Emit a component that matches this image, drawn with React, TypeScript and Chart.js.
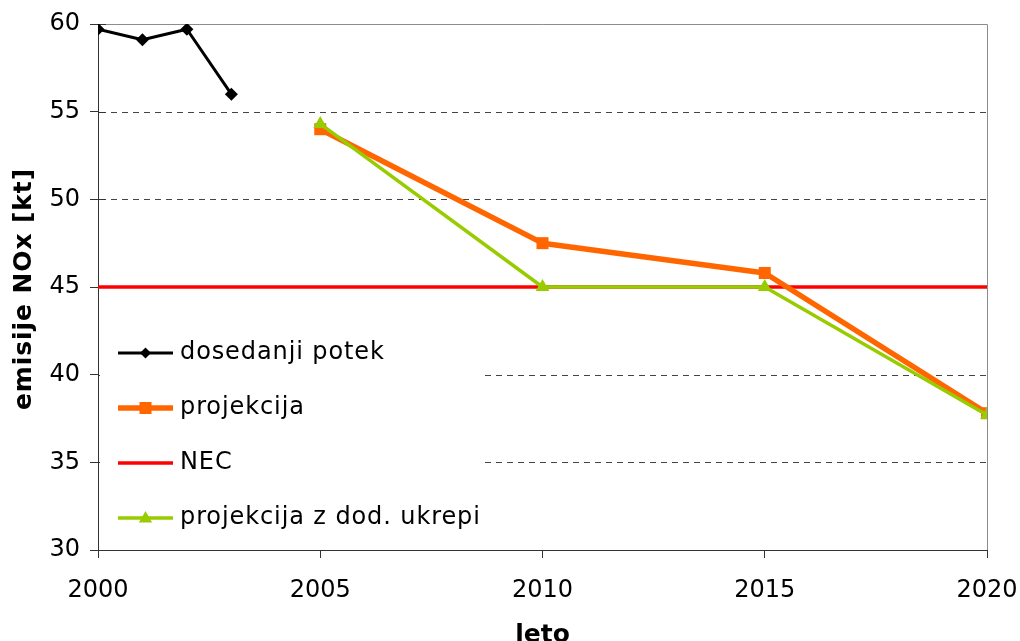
import React, { useEffect, useRef } from "react";
import { Chart, registerables } from "chart.js";

Chart.register(...registerables);

// ---- data ----
const historyYears = [2000, 2001, 2002, 2003];
const historyValues = [59.7, 59.1, 59.7, 56.0];
const projectionYears = [2005, 2010, 2015, 2020];
const projectionValues = [54.0, 47.5, 45.8, 37.8];
const extraMeasuresValues = [54.3, 45.0, 45.0, 37.7];
const necYears = [2000, 2020];
const necValues = [45, 45];
const seriesLabels = ["dosedanji potek", "projekcija", "NEC", "projekcija z dod. ukrepi"];
const yTicks = [30, 35, 40, 45, 50, 55, 60];
const xTitle = "leto";
const yTitle = "emisije NOx [kt]";

const FONT = "'DejaVu Sans', Verdana, sans-serif";
const BLACK = "#000000";
const ORANGE = "#FF6600";
const RED = "#FF0000";
const GREEN = "#99CC00";

function toPoints(xs: number[], ys: number[]) {
  return xs.map((x, i) => ({ x, y: ys[i] }));
}

function drawMarker(ctx: CanvasRenderingContext2D, style: string, x: number, y: number, r: number, color: string) {
  ctx.fillStyle = color;
  ctx.beginPath();
  if (style === "rectRot") {
    ctx.moveTo(x - r, y);
    ctx.lineTo(x, y - r);
    ctx.lineTo(x + r, y);
    ctx.lineTo(x, y + r);
  } else if (style === "rect") {
    ctx.rect(x - r, y - r, 2 * r, 2 * r);
  } else if (style === "triangle") {
    ctx.moveTo(x, y - r);
    ctx.lineTo(x + r * 0.95, y + r * 0.65);
    ctx.lineTo(x - r * 0.95, y + r * 0.65);
  }
  ctx.closePath();
  ctx.fill();
}

const legendItems = [
  { label: seriesLabels[0], color: BLACK, width: 3, marker: "rectRot", r: 5.5 },
  { label: seriesLabels[1], color: ORANGE, width: 5.5, marker: "rect", r: 6 },
  { label: seriesLabels[2], color: RED, width: 3.5, marker: "", r: 0 },
  { label: seriesLabels[3], color: GREEN, width: 3.5, marker: "triangle", r: 7 },
];

const decorPlugin = {
  id: "decor",
  beforeDatasetsDraw(chart: any) {
    const { ctx, chartArea: ca, scales } = chart;
    const y = scales.y;
    ctx.save();
    ctx.lineWidth = 1;
    ctx.strokeStyle = "#444444";
    ctx.setLineDash([6, 5]);
    for (const v of yTicks) {
      if (v === 30 || v === 60) continue;
      const py = Math.round(y.getPixelForValue(v)) + 0.5;
      ctx.beginPath();
      ctx.moveTo(ca.left + 2, py);
      ctx.lineTo(ca.right, py);
      ctx.stroke();
    }
    ctx.setLineDash([]);
    ctx.strokeStyle = "#8c8c8c";
    const top = Math.round(ca.top) + 0.5;
    const right = Math.round(ca.right) + 0.5;
    ctx.beginPath();
    ctx.moveTo(ca.left, top);
    ctx.lineTo(right, top);
    ctx.lineTo(right, ca.bottom);
    ctx.stroke();
    ctx.strokeStyle = "#333333";
    for (const v of yTicks) {
      const py = Math.round(y.getPixelForValue(v)) + 0.5;
      ctx.beginPath();
      ctx.moveTo(ca.left, py);
      ctx.lineTo(ca.left + 8, py);
      ctx.stroke();
    }
    ctx.restore();
  },
  afterDatasetsDraw(chart: any) {
    const { ctx } = chart;
    ctx.save();
    ctx.fillStyle = "#ffffff";
    ctx.fillRect(100, 322, 382, 226);
    const rows = [353, 408, 463, 518];
    legendItems.forEach((it, i) => {
      const ry = rows[i];
      ctx.strokeStyle = it.color;
      ctx.lineWidth = it.width;
      ctx.lineCap = "butt";
      ctx.beginPath();
      ctx.moveTo(118, ry);
      ctx.lineTo(173, ry);
      ctx.stroke();
      if (it.marker) drawMarker(ctx, it.marker, 145.5, ry, it.r, it.color);
      ctx.fillStyle = "#000";
      ctx.font = `24px ${FONT}`;
      (ctx as any).letterSpacing = "0.9px";
      ctx.textAlign = "left";
      ctx.textBaseline = "middle";
      ctx.fillText(it.label, 180, ry);
      (ctx as any).letterSpacing = "0px";
    });
    ctx.restore();
  },
  afterDraw(chart: any) {
    const { ctx, chartArea: ca } = chart;
    ctx.save();
    ctx.fillStyle = "#000";
    ctx.font = `bold 25px ${FONT}`;
    ctx.textAlign = "center";
    ctx.textBaseline = "alphabetic";
    ctx.fillText(xTitle, (ca.left + ca.right) / 2, 642);
    ctx.translate(24, (ca.top + ca.bottom) / 2 + 2);
    ctx.rotate(-Math.PI / 2);
    ctx.textBaseline = "middle";
    (ctx as any).letterSpacing = "0.9px";
    ctx.fillText(yTitle, 0, 0);
    ctx.restore();
  },
};

export default function App() {
  const ref = useRef<HTMLCanvasElement | null>(null);
  useEffect(() => {
    if (!ref.current) return;
    const chart = new Chart(ref.current, {
      type: "line",
      data: {
        datasets: [
          {
            label: seriesLabels[2],
            data: toPoints(necYears, necValues),
            borderColor: RED,
            backgroundColor: RED,
            borderWidth: 3.5,
            pointRadius: 0,
            order: 4,
          },
          {
            label: seriesLabels[0],
            data: toPoints(historyYears, historyValues),
            borderColor: BLACK,
            backgroundColor: BLACK,
            borderWidth: 3,
            pointStyle: "rectRot",
            pointRadius: 6.5,
            pointBorderWidth: 0,
            order: 3,
          },
          {
            label: seriesLabels[1],
            data: toPoints(projectionYears, projectionValues),
            borderColor: ORANGE,
            backgroundColor: ORANGE,
            borderWidth: 5.5,
            pointStyle: "rect",
            pointRadius: 8.5,
            pointBorderWidth: 0,
            order: 2,
          },
          {
            label: seriesLabels[3],
            data: toPoints(projectionYears, extraMeasuresValues),
            borderColor: GREEN,
            backgroundColor: GREEN,
            borderWidth: 3.5,
            pointStyle: "triangle",
            pointRadius: 8,
            pointBorderWidth: 0,
            order: 1,
          },
        ],
      },
      options: {
        animation: false,
        responsive: true,
        maintainAspectRatio: false,
        layout: { padding: { top: 24, right: 33, left: 0, bottom: 0 } },
        plugins: { legend: { display: false }, tooltip: { enabled: false } },
        elements: { line: { tension: 0, borderJoinStyle: "round" } },
        scales: {
          x: {
            type: "linear",
            min: 2000,
            max: 2020,
            ticks: {
              stepSize: 5,
              color: "#000",
              font: { family: FONT, size: 24 },
              padding: 18,
              maxRotation: 0,
              callback: (v: any) => String(v),
            },
            grid: { drawOnChartArea: false, drawTicks: true, tickLength: 8, color: "#333" },
            border: { color: "#333", width: 1 },
            afterFit: (s: any) => {
              s.height = 91;
              s.paddingLeft = 0;
              s.paddingRight = 0;
            },
          },
          y: {
            min: 30,
            max: 60,
            ticks: {
              stepSize: 5,
              color: "#000",
              font: { family: FONT, size: 24 },
              padding: 10,
            },
            grid: { drawOnChartArea: false, drawTicks: true, tickLength: 8, color: "#333" },
            border: { color: "#333", width: 1 },
            afterFit: (s: any) => {
              s.width = 98;
              s.paddingTop = 0;
              s.paddingBottom = 0;
            },
          },
        },
      },
      plugins: [decorPlugin],
    } as any);
    return () => chart.destroy();
  }, []);
  return (
    <div style={{ position: "absolute", left: 0, top: 0, width: 1020, height: 641, background: "#fff" }}>
      <canvas ref={ref} />
    </div>
  );
}
